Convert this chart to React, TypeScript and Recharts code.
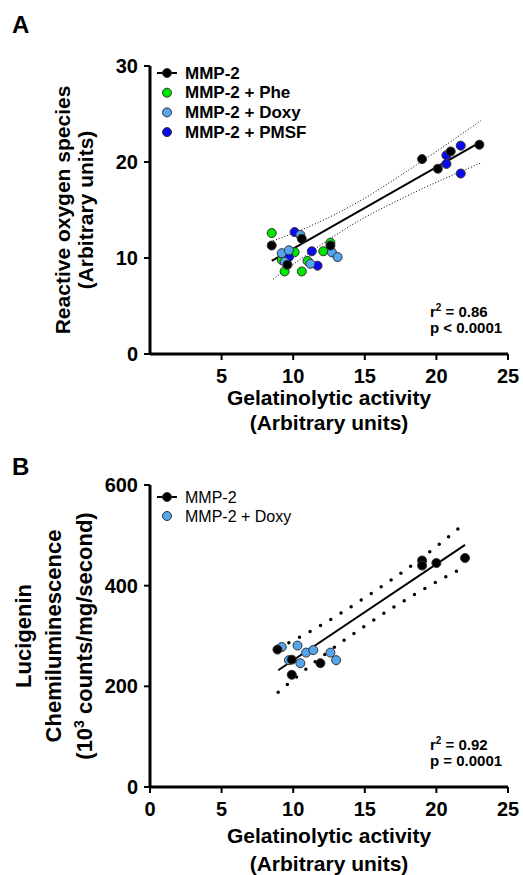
import { ComposedChart, Scatter, Line, XAxis, YAxis, Customized } from "recharts"

const FONT = "'Liberation Sans', Arial, sans-serif"

// Panel A: gelatinolytic activity vs reactive oxygen species
const mmp2X = [8.5, 10.6, 9.6, 12.6, 19.0, 20.1, 21.0, 23.0]
const mmp2Y = [11.3, 12.0, 9.3, 11.3, 20.3, 19.3, 21.1, 21.8]
const pheX = [8.5, 10.1, 9.2, 9.4, 10.6, 12.1, 12.6, 11.0]
const pheY = [12.6, 10.6, 9.8, 8.6, 8.6, 10.7, 11.6, 9.7]
const doxyX = [10.5, 9.2, 9.7, 9.4, 12.7, 13.1, 11.2]
const doxyY = [12.4, 10.5, 10.8, 9.6, 10.6, 10.1, 9.4]
const pmsfX = [10.1, 9.7, 11.3, 11.7, 21.7, 20.7, 20.7, 21.7]
const pmsfY = [12.7, 10.1, 10.7, 9.2, 21.7, 20.7, 19.8, 18.8]
// best fit line and 95% band
const fitAX = [8.5, 23.1]
const fitAY = [9.7, 22.1]
const bandAX = [8.6, 11, 14.5, 18, 23.1]
const bandAUp = [11.8, 13.2, 15.8, 19.1, 24.3]
const bandALo = [7.8, 10.4, 13.8, 16.5, 19.9]
const xTicksA = [5, 10, 15, 20, 25]
const yTicksA = [0, 10, 20, 30]

// Panel B: gelatinolytic activity vs lucigenin chemiluminescence
const mmp2BX = [8.9, 9.9, 9.9, 11.9, 19.0, 19.0, 20.0, 22.0]
const mmp2BY = [273, 253, 223, 246, 450, 440, 445, 455]
const doxyBX = [9.2, 10.3, 10.9, 11.4, 9.7, 10.5, 12.6, 13.0]
const doxyBY = [278, 281, 267, 272, 252, 246, 267, 252]
const fitBX = [8.95, 22]
const fitBY = [232, 481]
const bandBX = [8.95, 11.5, 15, 18.5, 22]
const bandBUp = [276, 314, 376, 445, 524]
const bandBLo = [188, 248, 320, 383, 438]
const xTicksB = [0, 5, 10, 15, 20, 25]
const yTicksB = [0, 200, 400, 600]

const toPts = (xs: number[], ys: number[]) => xs.map((x, i) => ({ x, y: ys[i] }))

const axisLine = { stroke: "#000", strokeWidth: 3 }
const tickLine = { stroke: "#000", strokeWidth: 2 }
const tickFont = { fill: "#000", fontSize: 20, fontWeight: 700, fontFamily: FONT }

function XTitle({ viewBox, d1, d2 }: any) {
  const cx = viewBox.x + viewBox.width / 2
  return (
    <g fontFamily={FONT} fontWeight={700} fontSize={21} fill="#000">
      <text x={cx} y={viewBox.y + d1} textAnchor="middle">Gelatinolytic activity</text>
      <text x={cx} y={viewBox.y + d2} textAnchor="middle">(Arbitrary units)</text>
    </g>
  )
}

function YTitleA({ viewBox }: any) {
  const cy = viewBox.y + viewBox.height / 2
  return (
    <g fontFamily={FONT} fontWeight={700} fontSize={21} fill="#000">
      <text x={70} y={cy} textAnchor="middle" transform={`rotate(-90 70 ${cy})`}>Reactive oxygen species</text>
      <text x={93} y={cy} textAnchor="middle" transform={`rotate(-90 93 ${cy})`}>(Arbitrary units)</text>
    </g>
  )
}

function YTitleB({ viewBox }: any) {
  const cy = viewBox.y + viewBox.height / 2
  return (
    <g fontFamily={FONT} fontWeight={700} fontSize={22} fill="#000">
      <text x={31} y={cy} textAnchor="middle" transform={`rotate(-90 31 ${cy})`}>Lucigenin</text>
      <text x={61} y={cy} textAnchor="middle" transform={`rotate(-90 61 ${cy})`}>Chemiluminescence</text>
      <text x={92} y={cy} textAnchor="middle" transform={`rotate(-90 92 ${cy})`}>
        (10<tspan dy={-8} fontSize={14}>3</tspan>
        <tspan dy={8}> counts/mg/second)</tspan>
      </text>
    </g>
  )
}

const legendA = [
  { name: "MMP-2", color: "#000000", line: true },
  { name: "MMP-2 + Phe", color: "#00e600", line: false },
  { name: "MMP-2 + Doxy", color: "#55a5ee", line: false },
  { name: "MMP-2 + PMSF", color: "#0a0af0", line: false },
]

const legendB = [
  { name: "MMP-2", color: "#000000", line: true },
  { name: "MMP-2 + Doxy", color: "#55a5ee", line: false },
]

function LegendBox({ items, top, bold, size, gap }: any) {
  return (
    <g fontFamily={FONT} fontSize={size} fontWeight={bold ? 700 : 400} fill="#000">
      {items.map((it: any, i: number) => {
        const y = top + i * gap
        return (
          <g key={it.name}>
            {it.line && <line x1={157} x2={177} y1={y} y2={y} stroke="#000" strokeWidth={2} />}
            <circle cx={167} cy={y} r={4.5} fill={it.color} stroke="#333" strokeWidth={1} />
            <text x={185} y={y} dominantBaseline="central">{it.name}</text>
          </g>
        )
      })}
    </g>
  )
}

function Stats({ x, y, r2, p }: any) {
  return (
    <g fontFamily={FONT} fontSize={15} fontWeight={700} fill="#000">
      <text x={x} y={y}>
        r<tspan dy={-6} fontSize={10}>2</tspan>
        <tspan dy={6}> = {r2}</tspan>
      </text>
      <text x={x} y={y + 16}>{p}</text>
    </g>
  )
}

const dots = (fill: string, data: any[]) => (
  <Scatter data={data} dataKey="y" fill={fill} stroke="#333" strokeWidth={1} isAnimationActive={false} />
)

export default function App() {
  return (
    <div style={{ position: "absolute", left: 0, top: 0, width: 523, height: 875, background: "#fff" }}>
      <ComposedChart width={523} height={440} margin={{ top: 66, right: 15, bottom: 0, left: 0 }}>
        <XAxis
          type="number"
          dataKey="x"
          domain={[0, 25]}
          ticks={xTicksA}
          height={86}
          axisLine={axisLine}
          tickLine={tickLine}
          tickSize={6}
          tickMargin={9}
          tick={tickFont}
          label={{ content: (p: any) => <XTitle {...p} d1={51} d2={76} /> }}
        />
        <YAxis
          type="number"
          domain={[0, 30]}
          ticks={yTicksA}
          width={150}
          axisLine={axisLine}
          tickLine={tickLine}
          tickSize={6}
          tickMargin={6}
          tick={tickFont}
          label={{ content: (p: any) => <YTitleA {...p} /> }}
        />
        {dots("#00e600", toPts(pheX, pheY))}
        {dots("#0a0af0", toPts(pmsfX, pmsfY))}
        {dots("#55a5ee", toPts(doxyX, doxyY))}
        {dots("#000000", toPts(mmp2X, mmp2Y))}
        <Line data={toPts(bandAX, bandAUp)} dataKey="y" type="monotone" stroke="#000" strokeWidth={1} strokeDasharray="1 2" dot={false} isAnimationActive={false} />
        <Line data={toPts(bandAX, bandALo)} dataKey="y" type="monotone" stroke="#000" strokeWidth={1} strokeDasharray="1 2" dot={false} isAnimationActive={false} />
        <Line data={toPts(fitAX, fitAY)} dataKey="y" type="linear" stroke="#000" strokeWidth={2} dot={false} isAnimationActive={false} />
        <Customized
          component={() => (
            <g>
              <text x={12} y={33} fontFamily={FONT} fontSize={24} fontWeight={700}>A</text>
              <LegendBox items={legendA} top={73} bold size={17} gap={19.7} />
              <Stats x={430} y={317} r2="0.86" p="p < 0.0001" />
            </g>
          )}
        />
      </ComposedChart>
      <ComposedChart width={523} height={435} margin={{ top: 45, right: 15, bottom: 0, left: 0 }}>
        <XAxis
          type="number"
          dataKey="x"
          domain={[0, 25]}
          ticks={xTicksB}
          height={88}
          axisLine={axisLine}
          tickLine={tickLine}
          tickSize={6}
          tickMargin={9}
          tick={tickFont}
          label={{ content: (p: any) => <XTitle {...p} d1={56} d2={84} /> }}
        />
        <YAxis
          type="number"
          domain={[0, 600]}
          ticks={yTicksB}
          width={150}
          axisLine={axisLine}
          tickLine={tickLine}
          tickSize={6}
          tickMargin={6}
          tick={tickFont}
          label={{ content: (p: any) => <YTitleB {...p} /> }}
        />
        {dots("#55a5ee", toPts(doxyBX, doxyBY))}
        {dots("#000000", toPts(mmp2BX, mmp2BY))}
        <Line data={toPts(bandBX, bandBUp)} dataKey="y" type="monotone" stroke="#000" strokeWidth={3.5} strokeDasharray="0 12" strokeLinecap="round" dot={false} isAnimationActive={false} />
        <Line data={toPts(bandBX, bandBLo)} dataKey="y" type="monotone" stroke="#000" strokeWidth={3.5} strokeDasharray="0 12" strokeLinecap="round" dot={false} isAnimationActive={false} />
        <Line data={toPts(fitBX, fitBY)} dataKey="y" type="linear" stroke="#000" strokeWidth={2} dot={false} isAnimationActive={false} />
        <Customized
          component={() => (
            <g>
              <text x={12} y={35} fontFamily={FONT} fontSize={24} fontWeight={700}>B</text>
              <LegendBox items={legendB} top={57} bold={false} size={16} gap={19} />
              <Stats x={430} y={310} r2="0.92" p="p = 0.0001" />
            </g>
          )}
        />
      </ComposedChart>
    </div>
  )
}
